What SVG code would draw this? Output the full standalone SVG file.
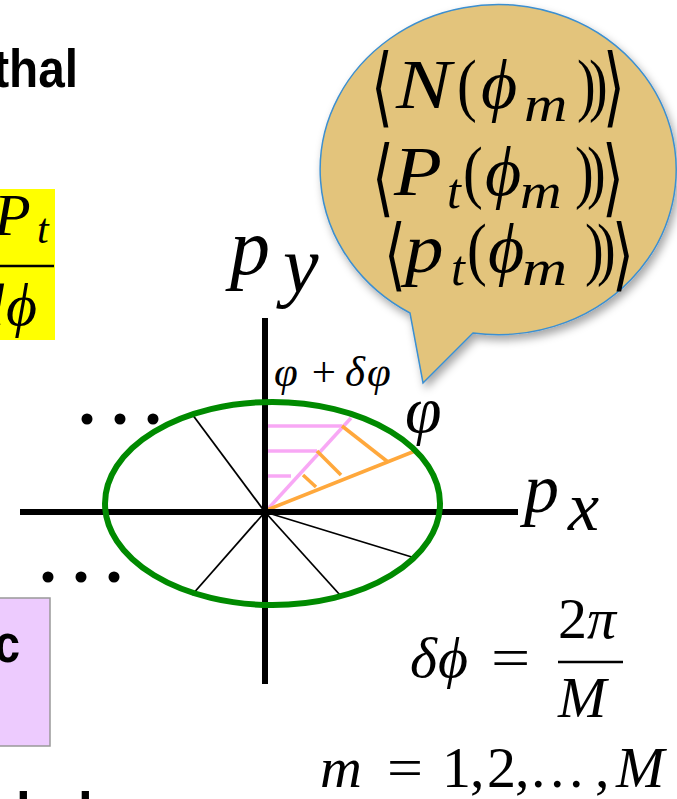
<svg xmlns="http://www.w3.org/2000/svg" width="677" height="799" viewBox="0 0 677 799">
<defs>
<style>
.mi{font-family:"Liberation Serif","DejaVu Serif",serif;font-style:italic;fill:#000}
.mr{font-family:"Liberation Serif","DejaVu Serif",serif;fill:#000}
.ab{font-family:"DejaVu Serif","DejaVu Sans",serif;fill:#000}
.bold{font-family:"Liberation Sans",Arial,sans-serif;font-weight:bold;fill:#000}
.axis{stroke:#000;stroke-width:6;fill:none}
.ray{stroke:#000;stroke-width:1.8;fill:none}
.pink{stroke:#F8A8F5;stroke-width:3.5;fill:none}
.orange{stroke:#FFA83C;stroke-width:3.5;fill:none}
.dot{fill:#000}
.big{font-size:70px}
.sub{font-size:50px}
</style>
<filter id="shadow" x="-10%" y="-10%" width="130%" height="130%">
<feDropShadow dx="3" dy="5" stdDeviation="4" flood-color="#000" flood-opacity="0.35"/>
</filter>
</defs>
<rect width="677" height="799" fill="#fff"/>

<g id="left-text">
<text class="bold" x="78" y="87" font-size="53" text-anchor="end" transform="translate(78 0) scale(0.9 1) translate(-78 0)">thal</text>
<text class="bold" y="830" font-size="53"><tspan x="-14">t</tspan><tspan x="16">h</tspan><tspan x="48">a</tspan><tspan x="78">l</tspan></text>
</g>

<g id="yellow-box">
<rect x="-2" y="189" width="57" height="151" fill="#FFFF00"/>
<text class="mi" x="-6" y="235" font-size="60">P</text>
<text class="mi" x="37" y="243" font-size="42">t</text>
<line x1="0" y1="266" x2="54" y2="266" stroke="#000" stroke-width="2.5"/>
<text class="mi" y="325" font-size="60"><tspan x="-26">d</tspan><tspan x="6">ϕ</tspan></text>
</g>

<g id="purple-box">
<rect x="-5" y="598" width="55" height="148" fill="#EDCBFE" stroke="#999" stroke-width="1.5"/>
<text class="bold" x="20" y="662" font-size="54" text-anchor="end" transform="translate(20 0) scale(0.85 1) translate(-20 0)">c</text>
</g>

<g id="bubble">
<path d="M410,313 A178,165 0 1 1 473,333 L423,383 Z" fill="#E3C47C" stroke="#3C8FD0" stroke-width="1.5" filter="url(#shadow)"/>
<g id="bubble-brackets" font-size="66">
<text class="ab" x="371" y="110" transform="translate(371 90) scale(0.85 1.32) translate(-371 -90)">⟨</text>
<text class="ab" x="603" y="110" transform="translate(603 90) scale(0.85 1.32) translate(-603 -90)">⟩</text>
<text class="ab" x="372" y="200" transform="translate(372 180) scale(0.85 1.28) translate(-372 -180)">⟨</text>
<text class="ab" x="602" y="200" transform="translate(602 180) scale(0.85 1.28) translate(-602 -180)">⟩</text>
<text class="ab" x="384" y="277" transform="translate(384 257) scale(0.85 1.2) translate(-384 -257)">⟨</text>
<text class="ab" x="612" y="277" transform="translate(612 257) scale(0.85 1.2) translate(-612 -257)">⟩</text>
</g>
<g id="bubble-line1">
<text class="mi big" transform="matrix(1.18 0 0 1 396 108)">N</text>
<text class="mr big" transform="matrix(0.85 0 0 1 457 108)">(</text>
<text class="mi big" x="481" y="108">ϕ</text>
<text class="mi sub" transform="matrix(1.2 0 0 1 524 121)">m</text>
<text class="mr big" transform="matrix(0.8 0 0 1 577 108)">)</text>
<text class="mr big" transform="matrix(0.8 0 0 1 589 108)">)</text>
</g>
<g id="bubble-line2">
<text class="mi big" transform="matrix(1.12 0 0 1 394 195)">P</text>
<text class="mi sub" x="447" y="208">t</text>
<text class="mr big" transform="matrix(0.85 0 0 1 463 195)">(</text>
<text class="mi big" x="485" y="195">ϕ</text>
<text class="mi sub" transform="matrix(1.15 0 0 1 520 208)">m</text>
<text class="mr big" transform="matrix(0.8 0 0 1 575 195)">)</text>
<text class="mr big" transform="matrix(0.8 0 0 1 587 195)">)</text>
</g>
<g id="bubble-line3">
<text class="mi big" transform="matrix(1.1 0 0 1 405 272)">p</text>
<text class="mi sub" x="451" y="285">t</text>
<text class="mr big" transform="matrix(0.85 0 0 1 467 272)">(</text>
<text class="mi big" x="488" y="272">ϕ</text>
<text class="mi sub" transform="matrix(1.25 0 0 1 522 285)">m</text>
<text class="mr big" transform="matrix(0.8 0 0 1 585 272)">)</text>
<text class="mr big" transform="matrix(0.8 0 0 1 597 272)">)</text>
</g>
</g>

<g id="diagram">
<g id="connectors">
<line class="ray" x1="265" y1="512" x2="192" y2="414"/>
<line class="ray" x1="265" y1="512" x2="192" y2="595"/>
<line class="ray" x1="265" y1="512" x2="340" y2="595"/>
<line class="ray" x1="265" y1="512" x2="415" y2="558"/>
<line class="pink" x1="267" y1="426" x2="342" y2="426"/>
<line class="pink" x1="267" y1="451" x2="317" y2="451"/>
<line class="pink" x1="267" y1="476" x2="291" y2="476"/>
<line class="pink" x1="267" y1="510" x2="351" y2="418"/>
<line class="orange" x1="267" y1="510" x2="415" y2="451"/>
<line class="orange" x1="342" y1="426" x2="388" y2="462"/>
<line class="orange" x1="317" y1="451" x2="341" y2="475"/>
<line class="orange" x1="303" y1="475" x2="316" y2="487"/>
<line class="axis" x1="20" y1="512" x2="518" y2="512"/>
<line class="axis" x1="265" y1="318" x2="265" y2="684"/>
</g>
<ellipse id="ring" cx="272.5" cy="503.5" rx="167.5" ry="101.5" fill="none" stroke="#008A00" stroke-width="6"/>
<g id="dots">
<circle class="dot" cx="87" cy="419" r="5.5"/>
<circle class="dot" cx="120" cy="419" r="5.5"/>
<circle class="dot" cx="153" cy="419" r="5.5"/>
<circle class="dot" cx="48" cy="577" r="5.5"/>
<circle class="dot" cx="81" cy="577" r="5.5"/>
<circle class="dot" cx="114" cy="577" r="5.5"/>
</g>
<g id="axis-labels">
<text class="mi" y="274" font-size="80"><tspan x="230">p</tspan><tspan x="283" y="292">y</tspan></text>
<text class="mi" y="512" font-size="70"><tspan x="524">p</tspan><tspan x="568" y="530">x</tspan></text>
</g>
<g id="angle-labels">
<text class="mi" y="386" font-size="43"><tspan x="274">φ</tspan><tspan class="mr" x="309">+</tspan><tspan x="345">δ</tspan><tspan x="367">φ</tspan></text>
<text class="mi" x="405" y="432" font-size="66">φ</text>
</g>
</g>

<g id="formulas">
<text y="677" font-size="58"><tspan class="mi" x="410">δ</tspan><tspan class="mi" x="438">ϕ</tspan></text>
<text class="mr" x="0" y="0" font-size="58" transform="translate(491 677) scale(1.2 1)">=</text>
<text class="mr" x="558" y="638" font-size="58">2<tspan class="mi">π</tspan></text>
<line x1="558" y1="662" x2="623" y2="662" stroke="#000" stroke-width="2.5"/>
<text class="mi" x="558" y="717" font-size="58">M</text>
<text class="mi" x="320" y="787" font-size="58">m</text>
<text class="mr" x="0" y="0" font-size="58" transform="translate(387 787) scale(1.1 1)">=</text>
<text class="mr" y="787" font-size="58"><tspan x="442">1</tspan><tspan x="470">,</tspan><tspan x="487">2</tspan><tspan x="515">,</tspan><tspan x="531">.</tspan><tspan x="550">.</tspan><tspan x="569">.</tspan><tspan x="595">,</tspan></text>
<text class="mi" x="616" y="787" font-size="58">M</text>
</g>
</svg>
